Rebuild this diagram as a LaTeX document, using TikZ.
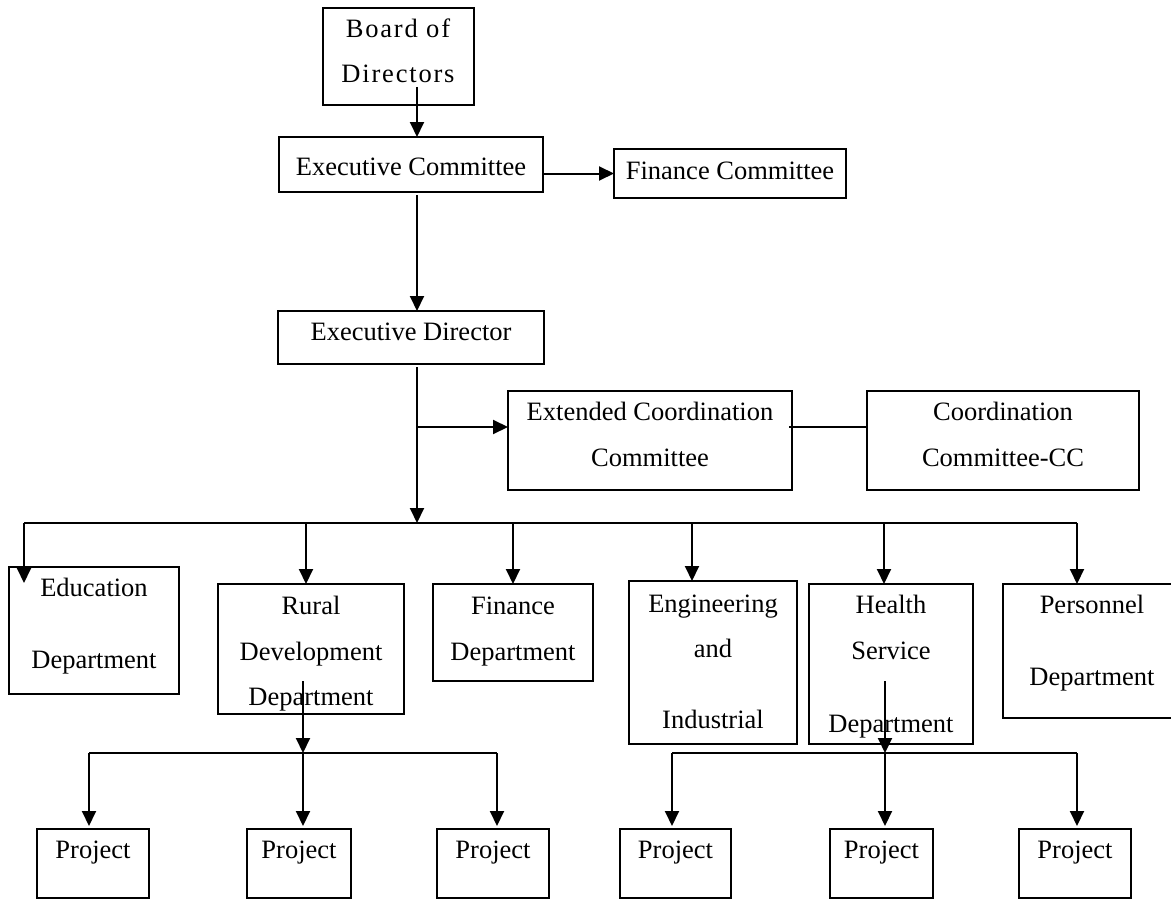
\documentclass[tikz,border=0pt]{standalone}
\usepackage{fontspec}
\setmainfont{Liberation Serif}
\newfontfamily\spacedfont[LetterSpace=6.8]{Liberation Serif}
\usetikzlibrary{arrows.meta}
\newcommand\mybox[5]{\node[box, minimum width={#4-#2}, minimum height={#5-#3}] (#1) at (#2,#3) {};}
\begin{document}
\begin{tikzpicture}[x=1pt,y=-1pt,
  box/.style={draw, line width=1.6pt, rectangle, inner sep=0pt, outer sep=0pt, anchor=north west},
  txt/.style={anchor=base, inner sep=0pt, font=\fontsize{26.5}{30}\selectfont},
  arr/.style={line width=2pt, -{Triangle[length=15pt,width=14pt]}},
  ln/.style={line width=2pt},
  thinln/.style={line width=1.3pt},
]
\useasboundingbox (0,0) rectangle (1171,899);

% boxes
\mybox{bod}{323}{8}{474}{105}
\mybox{exc}{279}{137}{543}{192}
\mybox{fic}{614}{149}{846}{198}
\mybox{exd}{278}{311}{544}{364}
\mybox{ecc}{508}{391}{792}{490}
\mybox{cc}{867}{391}{1139}{490}
\mybox{edu}{9}{567}{179}{694}
\mybox{rur}{218}{584}{404}{714}
\mybox{fid}{433}{584}{593}{681}
\mybox{eng}{629}{581}{797}{744}
\mybox{hea}{809}{584}{973}{744}
\mybox{per}{1003}{584}{1181}{718}
\mybox{pa}{37}{829}{149}{898}
\mybox{pb}{247}{829}{351}{898}
\mybox{pc}{437}{829}{549}{898}
\mybox{pd}{620}{829}{731}{898}
\mybox{pe}{830}{829}{933}{898}
\mybox{pf}{1019}{829}{1131}{898}

% texts
\node[txt, font=\fontsize{26.5}{30}\spacedfont] (bod1) at (398,38) {Board of};
\node[txt, font=\fontsize{26.5}{30}\spacedfont] (bod2) at (398,83) {Directors};
\node[txt] (exc1) at (411,175) {Executive Committee};
\node[txt] (fic1) at (730,179) {Finance Committee};
\node[txt] (exd1) at (411,340) {Executive Director};
\node[txt] (ecc1) at (650,420) {Extended Coordination};
\node[txt] (ecc2) at (650,466) {Committee};
\node[txt] (cc1) at (1003,420) {Coordination};
\node[txt] (cc2) at (1003,466) {Committee-CC};
\node[txt] (edu1) at (94,596) {Education};
\node[txt] (edu2) at (94,668) {Department};
\node[txt] (rur1) at (311,614) {Rural};
\node[txt] (rur2) at (311,660) {Development};
\node[txt] (rur3) at (311,705) {Department};
\node[txt] (fid1) at (513,614) {Finance};
\node[txt] (fid2) at (513,660) {Department};
\node[txt] (eng1) at (713,612) {Engineering};
\node[txt] (eng2) at (713,657) {and};
\node[txt] (eng3) at (713,728) {Industrial};
\node[txt] (hea1) at (891,613) {Health};
\node[txt] (hea2) at (891,659) {Service};
\node[txt] (hea3) at (891,732) {Department};
\node[txt] (per1) at (1092,613) {Personnel};
\node[txt] (per2) at (1092,685) {Department};
\node[txt] (pa1) at (93,858) {Project};
\node[txt] (pb1) at (299,858) {Project};
\node[txt] (pc1) at (493,858) {Project};
\node[txt] (pd1) at (675.5,858) {Project};
\node[txt] (pe1) at (881.5,858) {Project};
\node[txt] (pf1) at (1075,858) {Project};

% junction coordinates
\coordinate (c1) at (417,87);
\coordinate (c2) at (417,195);
\coordinate (c3) at (417,367);
\coordinate (j1) at (417,427);
\coordinate (bus) at (417,523);
\coordinate (c4) at (789,427);
\coordinate (bL) at (24,523);
\coordinate (bR) at (1077,523);
\coordinate (d2) at (306,523);
\coordinate (d3) at (513,523);
\coordinate (d4) at (692,523);
\coordinate (d5) at (884,523);
\coordinate (r0) at (303,681);
\coordinate (r1) at (303,753);
\coordinate (rL) at (89,753);
\coordinate (rR) at (497,753);
\coordinate (h0) at (885,681);
\coordinate (h1) at (885,753);
\coordinate (hL) at (672,753);
\coordinate (hR) at (1077,753);

% connectors
\draw[arr] (c1) -- (c1 |- exc.north);
\draw[arr] (exc.east |- fic.west) -- (fic.west);
\draw[arr] (c2) -- (c2 |- exd.north);
\draw[arr] (c3) -- (bus);
\draw[arr] (j1) -- (j1 -| ecc.west);
\draw[thinln] (c4) -- (c4 -| cc.west);
\draw[ln] (bL) -- (bR);
\draw[arr] (bL) -- ++(0,60);
\draw[arr] (d2) -- (d2 |- rur.north);
\draw[arr] (d3) -- (d3 |- fid.north);
\draw[arr] (d4) -- (d4 |- eng.north);
\draw[arr] (d5) -- (d5 |- hea.north);
\draw[arr] (bR) -- (bR |- per.north);

\draw[arr] (r0) -- (r1);
\draw[ln] (rL) -- (rR);
\draw[arr, shorten >=3pt] (rL) -- (rL |- pa.north);
\draw[arr, shorten >=3pt] (r1) -- (r1 |- pb.north);
\draw[arr, shorten >=3pt] (rR) -- (rR |- pc.north);

\draw[arr] (h0) -- (h1);
\draw[ln] (hL) -- (hR);
\draw[arr, shorten >=3pt] (hL) -- (hL |- pd.north);
\draw[arr, shorten >=3pt] (h1) -- (h1 |- pe.north);
\draw[arr, shorten >=3pt] (hR) -- (hR |- pf.north);
\end{tikzpicture}
\end{document}
